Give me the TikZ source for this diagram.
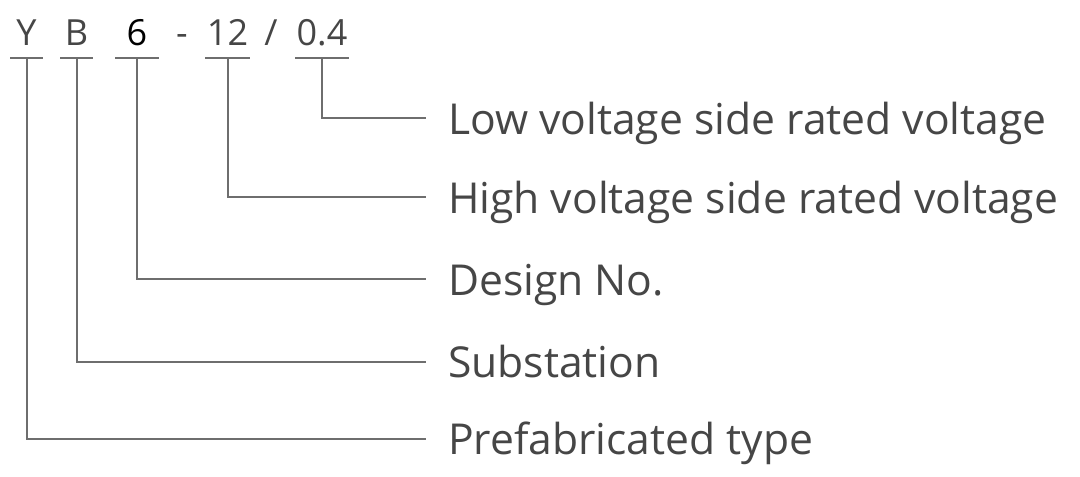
\documentclass[tikz,border=0pt]{standalone}
\usepackage{fontspec}
\setmainfont{Open Sans}
\definecolor{txt}{HTML}{464646}
\definecolor{ln}{HTML}{6E6E6E}
\begin{document}
\begin{tikzpicture}[x=1pt,y=-1pt,
  code/.style={inner sep=0pt,anchor=base,text=txt,font=\fontsize{36}{40}\selectfont},
  lbl/.style={inner sep=0pt,anchor=base west,text=txt,font=\fontsize{42.6}{46}\selectfont},
  uline/.style={draw=ln,line width=2pt},
  conn/.style={draw=ln,line width=2pt,line join=miter}]
\useasboundingbox (0,0) rectangle (1080,477);
% code characters
\node[code] (cY) at (26.5,45) {Y};
\node[code] (cB) at (76.5,45) {B};
\node[code,text=black] (c6) at (137,45) {6};
\node[code] (cD) at (182,45) {-};
\node[code] (c12) at (227.5,45) {12};
\node[code] (cS) at (271,45) {/};
\node[code] (c04) at (322,45) {0.4};
% underlines
\draw[uline] (10,58) -- (43,58);
\draw[uline] (60,58) -- (93,58);
\draw[uline] (115,58) -- (159,58);
\draw[uline] (205,58) -- (250,58);
\draw[uline] (295,58) -- (349,58);
\coordinate (uY) at (26.5,58);
\coordinate (uB) at (76.5,58);
\coordinate (u6) at (137,58);
\coordinate (u12) at (227.5,58);
\coordinate (u04) at (322,58);
% line ends
\coordinate (e04) at (426,118);
\coordinate (e12) at (426,197);
\coordinate (e6) at (426,279);
\coordinate (eB) at (426,362);
\coordinate (eY) at (426,439);
% labels
\node[lbl] (l04) at (448,134.5) {Low voltage side rated voltage};
\node[lbl] (l12) at (448,213) {High voltage side rated voltage};
\node[lbl] (l6) at (448,295) {Design No.};
\node[lbl] (lB) at (448,377) {Substation};
\node[lbl] (lY) at (448,454) {Prefabricated type};
% connectors
\draw[conn] (u04) |- (e04);
\draw[conn] (u12) |- (e12);
\draw[conn] (u6) |- (e6);
\draw[conn] (uB) |- (eB);
\draw[conn] (uY) |- (eY);
\end{tikzpicture}
\end{document}
